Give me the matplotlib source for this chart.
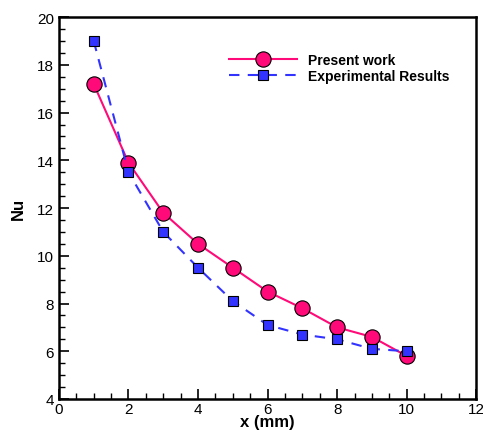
import numpy as np
import matplotlib.pyplot as plt
from matplotlib.ticker import MultipleLocator

plt.rcParams['font.family'] = ['Liberation Sans', 'DejaVu Sans']

x = [1, 2, 3, 4, 5, 6, 7, 8, 9, 10]
nu_present = [17.2, 13.9, 11.8, 10.5, 9.5, 8.5, 7.8, 7.0, 6.6, 5.8]
nu_exp = [19.0, 13.5, 11.0, 9.5, 8.1, 7.1, 6.7, 6.5, 6.1, 6.0]

fig = plt.figure(figsize=(4.83, 4.31), dpi=100)
ax = fig.add_axes([0.122, 0.072, 0.864, 0.886])

ax.plot(x, nu_present, color='#ff0a78', lw=1.5, marker='o', ms=11,
        mfc='#ff0a78', mec='black', mew=0.8, label='Present work', zorder=3)
ax.plot(x, nu_exp, color='#3333ff', lw=1.5, ls=(0, (5, 4)), marker='s', ms=7.5,
        mfc='#3333ff', mec='black', mew=0.8, label='Experimental Results', zorder=4)

ax.set_xlim(0, 12)
ax.set_ylim(4, 20)
ax.xaxis.set_major_locator(MultipleLocator(2))
ax.xaxis.set_minor_locator(MultipleLocator(0.5))
ax.yaxis.set_major_locator(MultipleLocator(2))
ax.yaxis.set_minor_locator(MultipleLocator(0.5))
ax.tick_params(which='both', direction='in', top=False, right=False, labelsize=11)
ax.tick_params(which='major', length=7, width=1.2)
ax.tick_params(which='minor', length=4, width=1)
ax.tick_params(axis='x', pad=2)
for s in ax.spines.values():
    s.set_linewidth(1.8)

ax.set_xlabel('x (mm)', fontsize=12, fontweight='bold', labelpad=-1)
ax.set_ylabel('Nu', fontsize=12, fontweight='bold', labelpad=8)

leg = ax.legend(loc='upper left', bbox_to_anchor=(0.378, 0.94), frameon=False,
                handlelength=4.9, prop={'weight': 'bold', 'size': 10},
                labelspacing=0.2, handletextpad=0.8)

fig.savefig('out.png', dpi=100)
